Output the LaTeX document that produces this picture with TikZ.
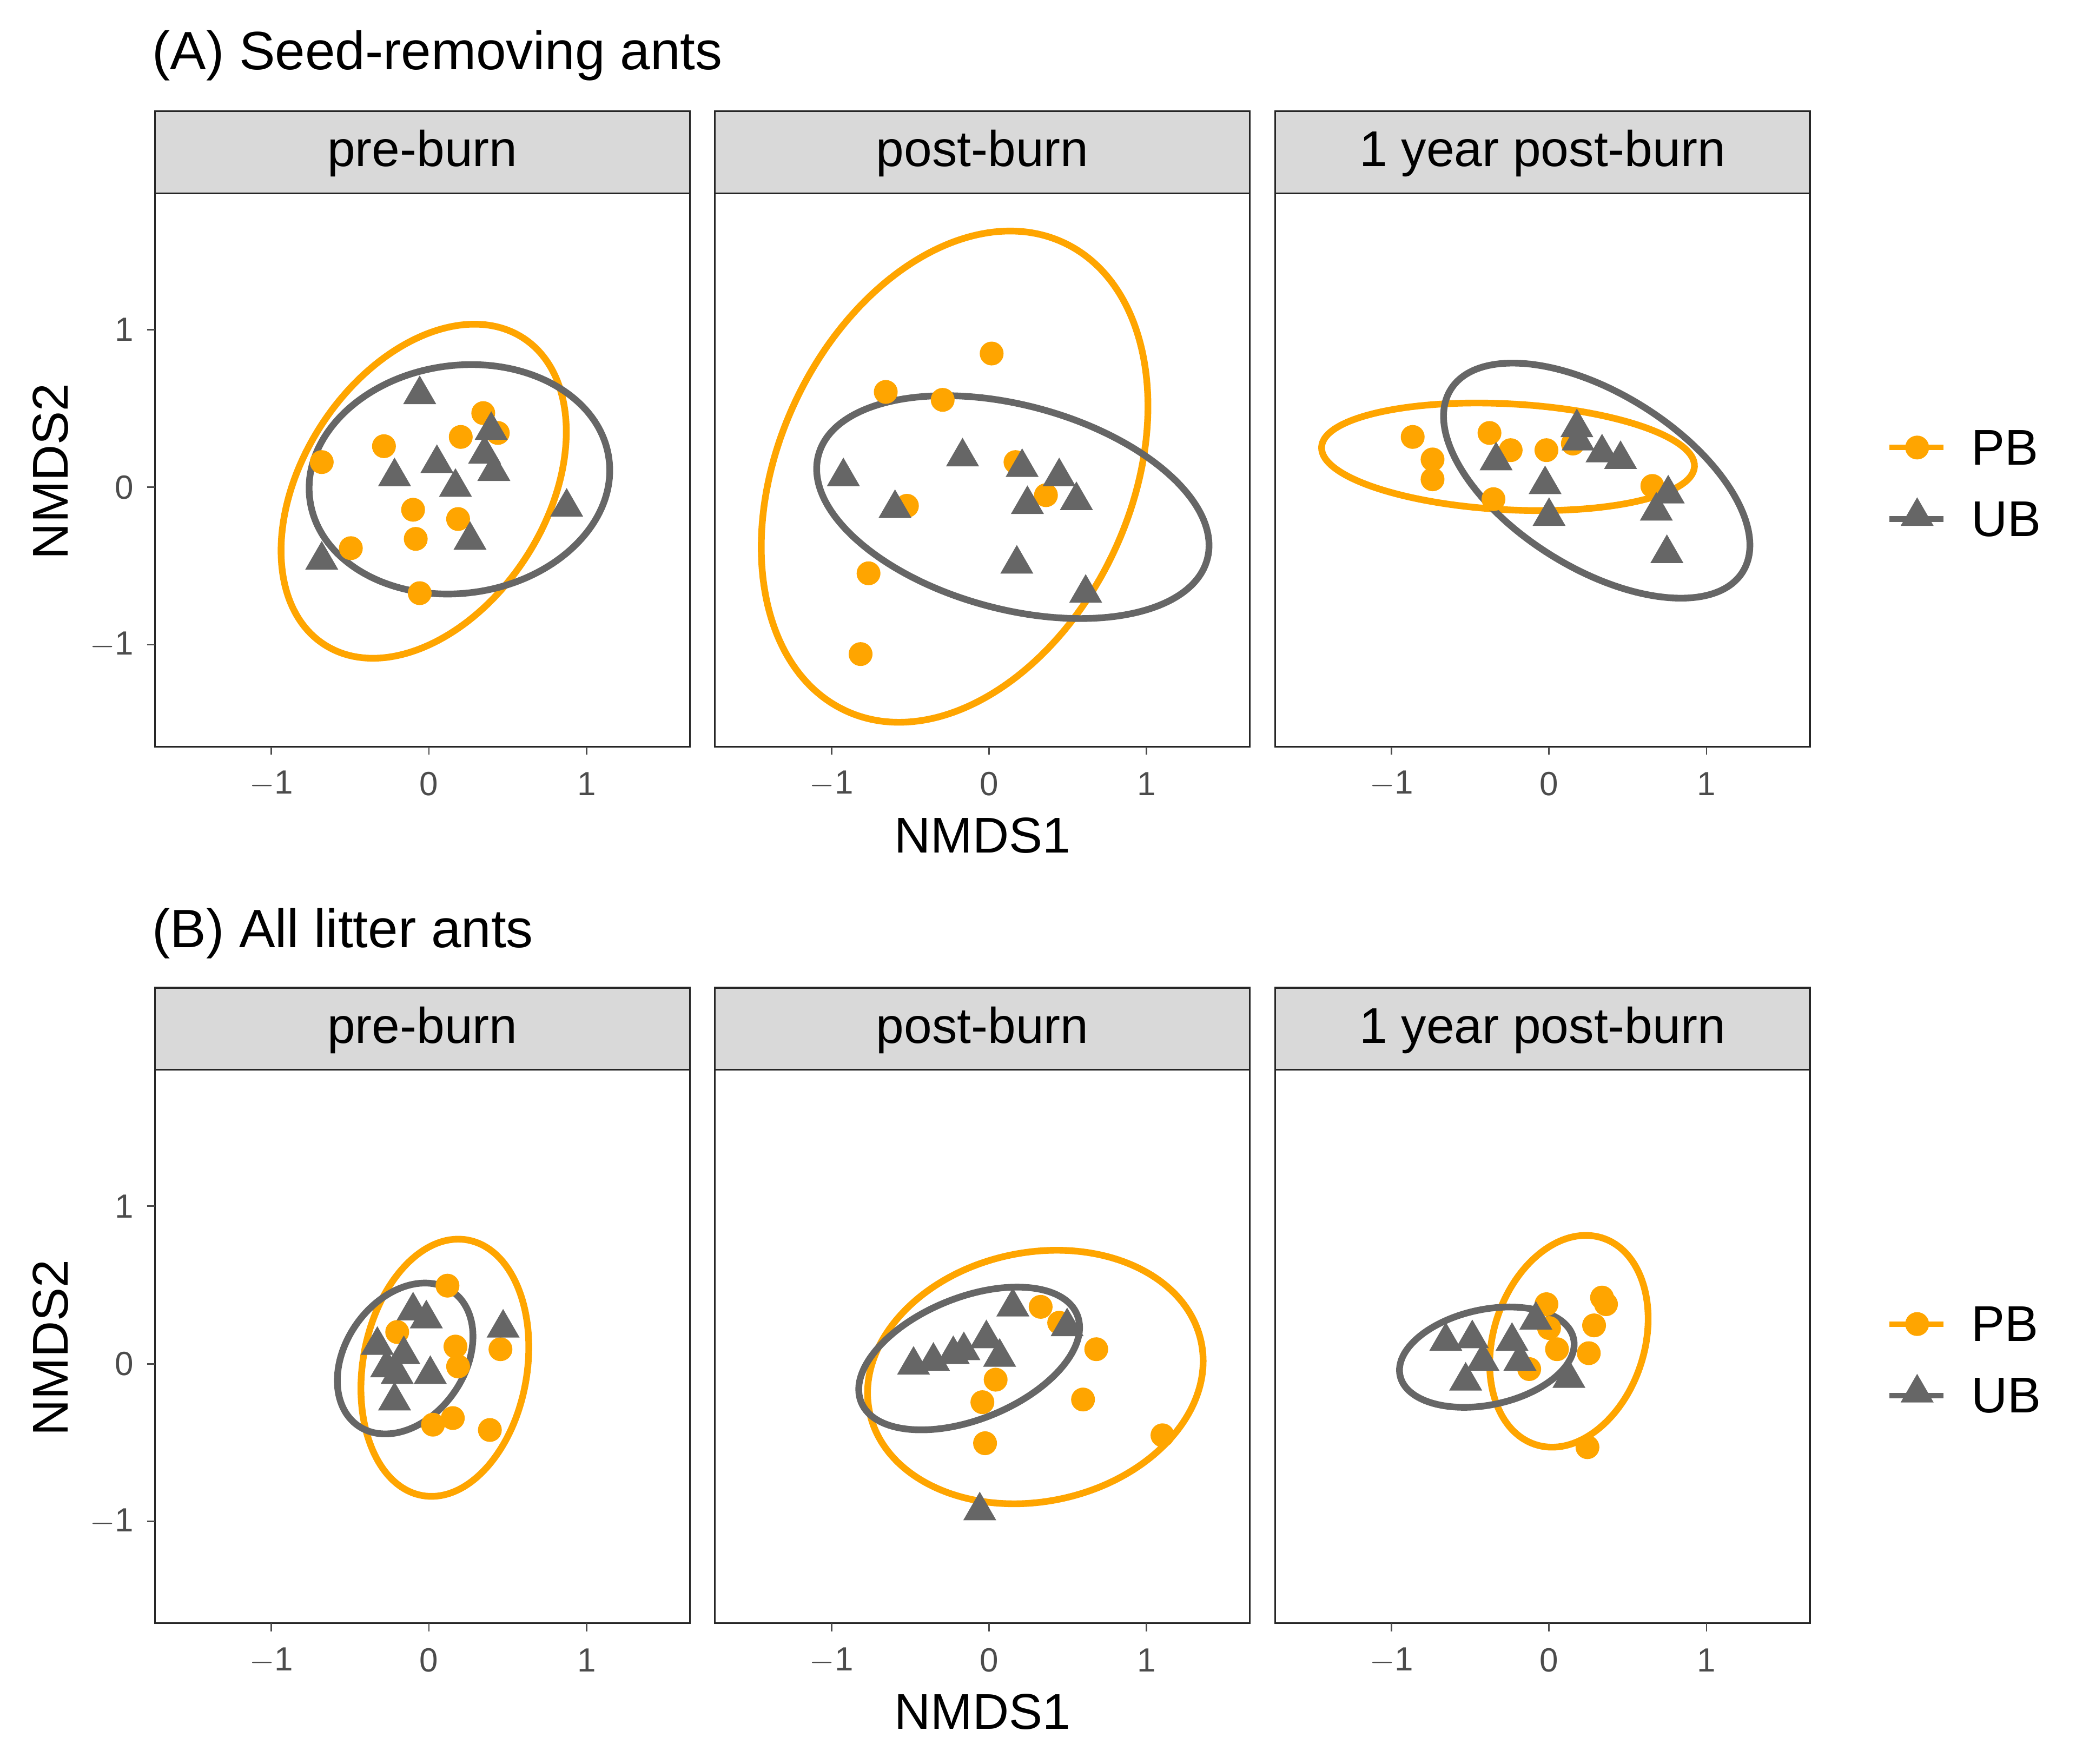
\documentclass[tikz,border=0pt]{standalone}
\usepackage{fontspec}
\setmainfont{Liberation Sans}
\usetikzlibrary{shapes.geometric}
\definecolor{pb}{HTML}{FFA500}
\definecolor{ub}{HTML}{666666}
\definecolor{strip}{HTML}{D9D9D9}
\begin{document}
\begin{tikzpicture}[x=0.025cm,y=-0.025cm,
  frame/.style={draw=black!85,line width=0.9pt},
  stripbox/.style={draw=black!85,line width=0.9pt,fill=strip},
  ell/.style={line width=3.6pt},
  pbp/.style={circle,fill=pb,inner sep=0pt,minimum size=0.45cm},
  ubp/.style={regular polygon,regular polygon sides=3,fill=ub,inner sep=0pt,minimum size=0.72cm},
  tick/.style={font=\fontsize{18}{18}\selectfont,text=black!70},
  big/.style={font=\fontsize{27}{27}\selectfont},
  ttl/.style={font=\fontsize{29}{29}\selectfont}]
\useasboundingbox (0,0) rectangle (1568,1332);
% panels
\foreach \px/\lab in {117/pre-burn,540/post-burn,963/1 year post-burn}{
 \foreach \py in {0,662}{
  \draw[frame] (\px,146+\py) rectangle (\px+404,564+\py);
  \draw[stripbox] (\px,84+\py) rectangle (\px+404,146+\py);
  \node[big] at (\px+202,116+\py) {\lab};
  \foreach \t/\tl in {-1/$-$1,0/0,1/1}{
   \draw[black!70,line width=0.8pt] (\px+207+119*\t,564+\py) -- (\px+207+119*\t,570+\py);
   \node[tick] at (\px+207+119*\t,592+\py) {\tl};}
 }}
\foreach \py in {0,662}{
 \foreach \t/\tl in {-1/$-$1,0/0,1/1}{
  \draw[black!70,line width=0.8pt] (111,368+\py-119*\t) -- (117,368+\py-119*\t);
  \node[tick,anchor=east] at (106,368+\py-119*\t) {\tl};}
 \node[big,rotate=90] at (38,356+\py) {NMDS2};
 \node[big] at (742,631+\py) {NMDS1};
 \draw[pb,line width=3pt] (1427,338+\py) -- (1468,338+\py);
 \node[pbp] at (1448,338+\py) {};
 \node[big,anchor=west] at (1484,338+\py) {PB};
 \draw[ub,line width=3pt] (1427,392+\py) -- (1468,392+\py);
 \node[ubp] at (1448,390+\py) {};
 \node[big,anchor=west] at (1484,392+\py) {UB};
}
\node[ttl,anchor=west] at (110,42) {(A) Seed-removing ants};
\node[ttl,anchor=west] at (110,705) {(B) All litter ants};
% ellipses (px units, visual angle)
\newcommand{\myell}[6]{\draw[ell,#1,rotate around={#6:(#2,#3)}] (#2,#3) ellipse [x radius=#4, y radius=-#5];}
\myell{pb}{320}{371}{138}{92}{57}
\myell{ub}{347}{362}{114}{86}{8}
\myell{pb}{721}{360}{195}{133}{65}
\myell{ub}{765}{383}{152}{77}{-15}
\myell{pb}{1139}{345}{141}{40}{-3}
\myell{ub}{1206}{363}{130}{66}{-32}
\myell{pb}{336}{1033}{98}{62}{80}
\myell{ub}{306}{1026}{62}{45}{55}
\myell{pb}{782}{1040}{128}{94}{12}
\myell{ub}{732}{1026}{88}{46}{22}
\myell{pb}{1185}{1013}{82}{57}{72}
\myell{ub}{1123}{1025}{67}{36}{12}
% points
\foreach \x/\y in {243/349,265/414,290/337,312/385,314/407,317/448,346/392,348/330,365/312,376/327,
 650/494,656/433,669/296,685/382,712/302,749/267,767/349,790/374,
 1067/330,1082/347,1082/362,1125/327,1128/377,1141/340,1168/340,1188/335,1248/367,
 300/1006,338/971,344/1017,346/1032,327/1076,342/1071,370/1080,378/1019,
 744/1090,742/1059,752/1042,786/987,800/999,818/1057,828/1019,878/1084,
 1168/985,1210/980,1213/985,1204/1001,1155/1034,1176/1019,1200/1022,1199/1093,1170/1003}
 \node[pbp] at (\x,\y) {};
\foreach \x/\y in {243/425,317/300,298/362,330/352,344/370,355/410,366/345,371/327,373/358,428/385,
 637/362,676/386,727/347,768/428,772/355,776/383,800/362,813/380,820/450,
 1130/350,1167/368,1170/392,1191/325,1192/335,1210/344,1224/349,1251/388,1260/375,1259/420,
 285/1018,300/1040,298/1060,312/992,322/998,325/1040,305/1025,380/1005,292/1035,
 690/1033,705/1030,720/1025,728/1022,745/1013,755/1027,765/989,806/1004,740/1143,
 1092/1015,1112/1013,1107/1045,1120/1030,1142/1015,1160/999,1185/1043,1148/1030}
 \node[ubp] at (\x,\y-2) {};
\end{tikzpicture}
\end{document}
